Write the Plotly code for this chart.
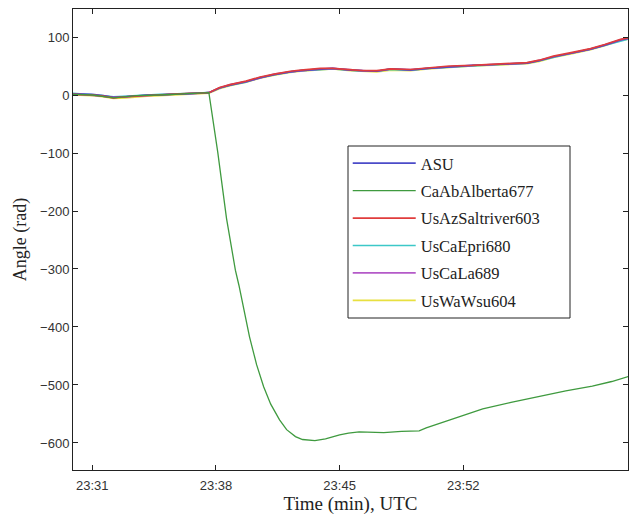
import plotly.graph_objects as go

# time in minutes after 23:00 UTC
t_cluster = [29.9, 30.5, 31.0, 31.6, 32.2, 32.9, 33.5, 34.1, 34.8, 35.4, 35.8, 36.5, 37.0, 37.6,
             38.2, 38.8, 39.7, 40.5, 41.3, 42.2, 42.8, 43.9, 44.6, 45.6, 46.3, 47.1, 47.9, 49.0,
             50.0, 51.2, 52.5, 54.1, 55.6, 56.3, 57.1, 58.1, 59.2, 60.0, 60.9, 61.4]

asu        = [2, 2, 1, -1, -4, -3, -1, 0, 0, 1, 2, 2, 3, 4,
              12, 17, 23, 30, 35, 40, 42, 45, 46, 43, 42, 41, 45, 43,
              46, 49, 51, 53, 55, 59, 66, 72, 79, 86, 95, 98]
usaz       = [1, 1, 0, -2, -5, -3, -2, 0, 1, 1, 2, 3, 3, 4,
              13, 18, 24, 31, 36, 41, 43, 46, 46, 44, 42, 42, 45, 44,
              47, 50, 51, 54, 56, 60, 67, 73, 80, 87, 96, 99]
uscaepri   = [3, 2, 1, -1, -3, -2, 0, 1, 1, 2, 2, 3, 4, 4,
              12, 17, 22, 30, 35, 40, 42, 44, 45, 43, 41, 41, 44, 43,
              46, 48, 50, 53, 55, 59, 65, 72, 79, 86, 94, 97]
uscala     = [2, 1, 0, -2, -4, -3, -1, 0, 0, 1, 2, 2, 3, 4,
              12, 18, 23, 30, 36, 40, 42, 45, 46, 43, 42, 41, 45, 44,
              46, 49, 51, 53, 55, 60, 66, 72, 79, 86, 95, 98]
uswawsu    = [0, 0, -1, -3, -6, -5, -3, -2, -1, 0, 0, 1, 2, 3,
              11, 16, 22, 29, 34, 39, 41, 44, 45, 42, 41, 40, 43, 42,
              45, 48, 50, 52, 54, 58, 65, 71, 78, 85, 94, 97]

t_green = [29.9, 31.0, 32.2, 33.5, 34.8, 36.0, 37.0, 37.6, 38.1, 38.6, 39.1, 39.3, 39.9, 40.3,
           40.7, 41.1, 41.6, 42.0, 42.5, 42.9, 43.6, 44.2, 45.0, 45.5, 46.1, 47.5, 48.5, 49.5,
           49.9, 51.5, 53.1, 54.7, 56.3, 57.8, 59.3, 60.4, 61.4]
caab = [1, 0, -5, -1, 0, 2, 3, 4, -98, -213, -302, -328, -417, -465,
        -503, -533, -560, -577, -589, -594, -596, -593, -586, -583, -581, -582, -580, -579,
        -574, -558, -541, -530, -519, -510, -502, -494, -485]

x_tickvals = [31, 38, 45, 52]
x_ticktext = ["23:31", "23:38", "23:45", "23:52"]
y_tickvals = [-600, -500, -400, -300, -200, -100, 0, 100]

names = ["ASU", "CaAbAlberta677", "UsAzSaltriver603", "UsCaEpri680", "UsCaLa689", "UsWaWsu604"]
colors = {"ASU": "#4b4bc8", "CaAbAlberta677": "#3f9a3f", "UsAzSaltriver603": "#e03c3c",
          "UsCaEpri680": "#3cc8c8", "UsCaLa689": "#b45ac8", "UsWaWsu604": "#e8e040"}
series = {"ASU": (t_cluster, asu), "CaAbAlberta677": (t_green, caab),
          "UsAzSaltriver603": (t_cluster, usaz), "UsCaEpri680": (t_cluster, uscaepri),
          "UsCaLa689": (t_cluster, uscala), "UsWaWsu604": (t_cluster, uswawsu)}
draw_order = ["UsWaWsu604", "UsCaEpri680", "UsCaLa689", "ASU", "UsAzSaltriver603", "CaAbAlberta677"]

fig = go.Figure()
for nm in draw_order:
    x, y = series[nm]
    fig.add_trace(go.Scatter(x=x, y=y, mode="lines", name=nm, legendgroup=nm,
                             legendrank=names.index(nm) + 1,
                             line=dict(color=colors[nm], width=1.7 if nm != "CaAbAlberta677" else 1.3)))

# legend frame (wider than the auto-sized legend)
fig.add_shape(type="rect", xref="paper", yref="paper", x0=0.4955, x1=0.8955, y0=0.3297, y1=0.7028,
              line=dict(color="#222", width=1), fillcolor="white", layer="above")

fig.update_layout(
    width=629, height=523,
    margin=dict(l=73, r=1, t=9, b=53),
    paper_bgcolor="white", plot_bgcolor="white",
    showlegend=True,
    legend=dict(x=0.495, y=0.703, xanchor="left", yanchor="top",
                borderwidth=0, bgcolor="rgba(0,0,0,0)",
                font=dict(family="Liberation Serif", size=16.5, color="#222"),
                tracegroupgap=3, itemwidth=63),
    xaxis=dict(range=[29.91, 61.32], tickmode="array", tickvals=x_tickvals, ticktext=x_ticktext,
               ticks="inside", ticklen=5, tickcolor="#222", showgrid=False, zeroline=False,
               showline=True, linecolor="#222", linewidth=1, mirror="allticks",
               ticklabelstandoff=3,
               tickfont=dict(family="Liberation Sans", size=13, color="#333"),
               title=dict(text="Time (min), UTC", font=dict(family="Liberation Serif", size=19, color="#222"),
                          standoff=4)),
    yaxis=dict(range=[-646.6, 148.3], tickmode="array", tickvals=y_tickvals,
               ticks="inside", ticklen=5, tickcolor="#222", showgrid=False, zeroline=False,
               showline=True, linecolor="#222", linewidth=1, mirror="allticks",
               tickfont=dict(family="Liberation Sans", size=13, color="#333"),
               title=dict(text="Angle (rad)", font=dict(family="Liberation Serif", size=18, color="#222"),
                          standoff=8)),
)

fig.write_html("out.html")
